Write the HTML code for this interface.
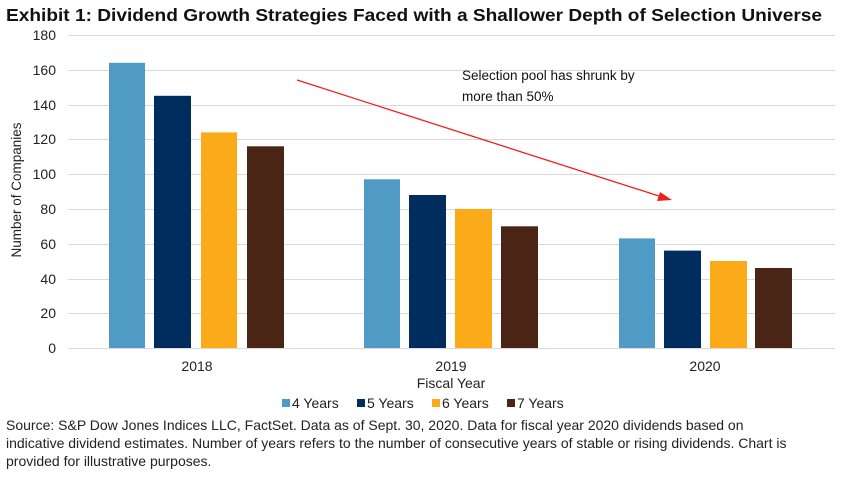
<!DOCTYPE html>
<html><head><style>
body{margin:0;width:843px;height:476px;background:#fff;overflow:hidden;font-family:"Liberation Sans",Arial,sans-serif}
</style></head><body>
<svg width="843" height="476" xmlns="http://www.w3.org/2000/svg" font-family="Liberation Sans, Arial, sans-serif">
<text x="6" y="21" font-size="17.5" font-weight="bold" fill="#111" textLength="816" lengthAdjust="spacingAndGlyphs">Exhibit 1: Dividend Growth Strategies Faced with a Shallower Depth of Selection Universe</text>
<g stroke="#d9d9d9" stroke-width="1">
<line x1="68" x2="835" y1="35.5" y2="35.5"/><line x1="68" x2="835" y1="70.5" y2="70.5"/><line x1="68" x2="835" y1="105.5" y2="105.5"/><line x1="68" x2="835" y1="139.5" y2="139.5"/><line x1="68" x2="835" y1="174.5" y2="174.5"/><line x1="68" x2="835" y1="209.5" y2="209.5"/><line x1="68" x2="835" y1="244.5" y2="244.5"/><line x1="68" x2="835" y1="279.5" y2="279.5"/><line x1="68" x2="835" y1="313.5" y2="313.5"/><line x1="68" x2="835" y1="348.5" y2="348.5"/>
</g>
<g font-size="14" fill="#222" text-anchor="end">
<text x="56" y="40">180</text><text x="56" y="75">160</text><text x="56" y="110">140</text><text x="56" y="144">120</text><text x="56" y="179">100</text><text x="56" y="214">80</text><text x="56" y="249">60</text><text x="56" y="284">40</text><text x="56" y="318">20</text><text x="56" y="353">0</text>
</g>
<text transform="translate(21,190) rotate(-90)" font-size="13.5" text-anchor="middle" fill="#222">Number of Companies</text>
<g>
<rect x="109" y="62.8" width="36" height="285.2" fill="#4f9bc5"/>
<rect x="154" y="95.8" width="37" height="252.2" fill="#002c5e"/>
<rect x="201" y="132.4" width="36" height="215.6" fill="#fbaa19"/>
<rect x="247" y="146.3" width="37" height="201.7" fill="#4a2515"/>
<rect x="364" y="179.3" width="36" height="168.7" fill="#4f9bc5"/>
<rect x="409" y="195" width="37" height="153" fill="#002c5e"/>
<rect x="455" y="208.9" width="37" height="139.1" fill="#fbaa19"/>
<rect x="501" y="226.3" width="37" height="121.7" fill="#4a2515"/>
<rect x="619" y="238.4" width="36" height="109.6" fill="#4f9bc5"/>
<rect x="664" y="250.6" width="37" height="97.4" fill="#002c5e"/>
<rect x="710" y="261" width="37" height="87" fill="#fbaa19"/>
<rect x="755" y="268" width="37" height="80" fill="#4a2515"/>
</g>
<g font-size="14" fill="#222" text-anchor="middle">
<text x="197" y="371">2018</text><text x="451" y="371">2019</text><text x="705" y="371">2020</text>
<text x="451" y="388">Fiscal Year</text>
</g>
<line x1="297" y1="80" x2="662" y2="197" stroke="#f0201a" stroke-width="1.3"/>
<polygon points="672,200 660,192 657,201" fill="#f0201a"/>
<text x="462" y="80" font-size="13.5" fill="#111">Selection pool has shrunk by</text>
<text x="462" y="101" font-size="13.5" fill="#111">more than 50%</text>
<g font-size="14" fill="#222">
<rect x="282" y="399" width="8" height="8" fill="#4f9bc5"/><text x="292" y="408">4 Years</text>
<rect x="357" y="399" width="8" height="8" fill="#002c5e"/><text x="367" y="408">5 Years</text>
<rect x="432" y="399" width="8" height="8" fill="#fbaa19"/><text x="442" y="408">6 Years</text>
<rect x="507" y="399" width="8" height="8" fill="#4a2515"/><text x="517" y="408">7 Years</text>
</g>
<g font-size="14" fill="#222">
<text x="6" y="430">Source: S&amp;P Dow Jones Indices LLC, FactSet. Data as of Sept. 30, 2020. Data for fiscal year 2020 dividends based on</text>
<text x="6" y="448">indicative dividend estimates. Number of years refers to the number of consecutive years of stable or rising dividends. Chart is</text>
<text x="6" y="466">provided for illustrative purposes.</text>
</g>
</svg>
</body></html>
